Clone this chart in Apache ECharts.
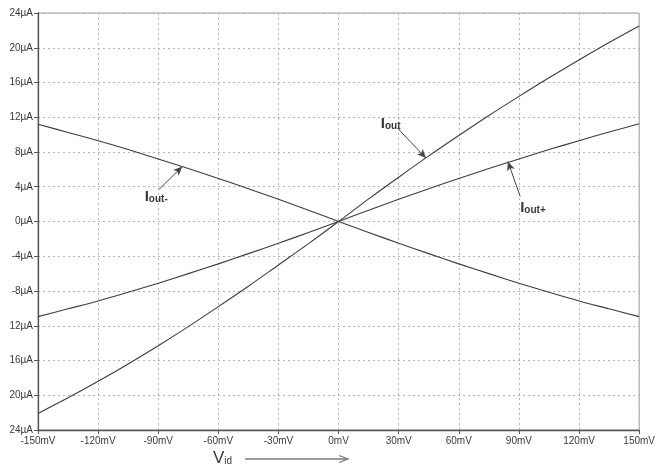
<!DOCTYPE html>
<html>
<head>
<meta charset="utf-8">
<script src="https://cdn.jsdelivr.net/npm/echarts@6/dist/echarts.min.js"></script>
<style>
  html, body { margin: 0; padding: 0; background: #fff; }
  #chart { width: 658px; height: 470px; }
</style>
</head>
<body>
<div id="chart"></div>
<script>
// Differential input voltage sweep (mV)
const vid = [-150, -135, -120, -105, -90, -75, -60, -45, -30, -15, 0,
             15, 30, 45, 60, 75, 90, 105, 120, 135, 150];
// Output currents (µA)
const iOut      = [-22.1, -20.3, -18.4, -16.4, -14.3, -12.1, -9.8, -7.45, -5.0, -2.55, 0,
                    2.6, 5.1, 7.55, 9.9, 12.2, 14.4, 16.55, 18.6, 20.6, 22.5];
const iOutPlus  = [-10.95, -10.05, -9.15, -8.15, -7.1, -6.0, -4.88, -3.7, -2.5, -1.26, 0,
                    1.3, 2.55, 3.78, 4.95, 6.1, 7.2, 8.28, 9.3, 10.3, 11.25];
const iOutMinus = [11.2, 10.25, 9.3, 8.28, 7.2, 6.1, 4.95, 3.78, 2.55, 1.3, 0,
                   -1.26, -2.5, -3.7, -4.88, -6.0, -7.1, -8.15, -9.15, -10.05, -10.95];

// Axis tick labels
const xTickLabels = ['-150mV', '-120mV', '-90mV', '-60mV', '-30mV', '0mV',
                     '30mV', '60mV', '90mV', '120mV', '150mV'];
const yTickLabels = ['24µA', '20µA', '16µA', '12µA', '-8µA', '-4µA', '0µA',
                     '4µA', '8µA', '12µA', '16µA', '20µA', '24µA'];

// Trace annotations: [label main, label sub, text anchor (mV, µA), arrow tail, arrow tip]
const traceNotes = [
  { main: 'I', sub: 'out',  text: [26, 11.2],   tail: [29.2, 10.8],  tip: [43.6, 7.3] },
  { main: 'I', sub: 'out-', text: [-91, 2.8],   tail: [-89.6, 3.7],  tip: [-78, 6.33] },
  { main: 'I', sub: 'out+', text: [97, 1.6],    tail: [90.6, 2.9],   tip: [84.5, 6.9] }
];

const pairs = (ys) => vid.map((v, i) => [v, ys[i]]);
const traceColor = '#3c3c3c';
const font = 'Liberation Sans, Arial, sans-serif';

const chart = echarts.init(document.getElementById('chart'), null, { renderer: 'canvas' });

function traceSeries(name, ys, note) {
  const s = {
    name: name,
    type: 'line',
    data: pairs(ys),
    smooth: 0.3,
    showSymbol: false,
    lineStyle: { color: traceColor, width: 1.1 },
    itemStyle: { color: traceColor },
    silent: true,
    animation: false
  };
  if (note) {
    s.markLine = {
      silent: true,
      symbol: ['none', 'arrow'],
      symbolSize: [6, 9],
      label: { show: false },
      lineStyle: { color: '#444', width: 1, type: 'solid' },
      animation: false,
      data: [[{ coord: note.tail }, { coord: note.tip }]]
    };
  }
  return s;
}

chart.setOption({
  backgroundColor: '#ffffff',
  animation: false,
  grid: {
    left: 38, right: 14, top: 13, bottom: 40,
    show: true, borderColor: '#9a9a9a', borderWidth: 1
  },
  xAxis: {
    type: 'value',
    min: -150, max: 150, interval: 30,
    axisLine: { show: true, onZero: false, lineStyle: { color: '#555', width: 1.3 } },
    axisTick: { show: true, length: 4, lineStyle: { color: '#555' } },
    axisLabel: {
      margin: 6, color: '#3a3a3a', fontSize: 10, fontFamily: font,
      formatter: (v) => xTickLabels[Math.round((v + 150) / 30)]
    },
    splitLine: { show: true, lineStyle: { color: '#b4b4b4', type: [2, 3], width: 1 } }
  },
  yAxis: {
    type: 'value',
    min: -24, max: 24, interval: 4,
    axisLine: { show: true, onZero: false, lineStyle: { color: '#555', width: 1.3 } },
    axisTick: { show: true, length: 4, lineStyle: { color: '#555' } },
    axisLabel: {
      margin: 5, color: '#3a3a3a', fontSize: 10, fontFamily: font,
      formatter: (v) => yTickLabels[Math.round((v + 24) / 4)]
    },
    splitLine: { show: true, lineStyle: { color: '#b4b4b4', type: [2, 3], width: 1 } }
  },
  series: [
    traceSeries('Iout', iOut, traceNotes[0]),
    traceSeries('Iout-', iOutMinus, traceNotes[1]),
    traceSeries('Iout+', iOutPlus, traceNotes[2])
  ]
});

// Trace name labels placed in data space
const noteGraphics = traceNotes.map((n) => {
  const p = chart.convertToPixel({ gridIndex: 0 }, n.text);
  return {
    type: 'text',
    x: p[0], y: p[1],
    style: {
      text: '{m|' + n.main + '}{s|' + n.sub + '}',
      align: 'center', verticalAlign: 'middle',
      rich: {
        m: { fontSize: 15, fontWeight: 'bold', fontFamily: font, fill: '#3a3a3a', color: '#3a3a3a' },
        s: { fontSize: 10, fontWeight: 'bold', fontFamily: font, fill: '#3a3a3a', color: '#3a3a3a',
             padding: [5, 0, 0, 0] }
      }
    },
    silent: true
  };
});

// Horizontal axis title with direction arrow
const axisTitle = [
  {
    type: 'text', x: 213, y: 458,
    style: {
      text: '{m|V}{s|id}',
      verticalAlign: 'middle',
      rich: {
        m: { fontSize: 17, fontFamily: font, fill: '#3a3a3a', color: '#3a3a3a' },
        s: { fontSize: 10, fontFamily: font, fill: '#3a3a3a', color: '#3a3a3a', padding: [6, 0, 0, 0] }
      }
    },
    silent: true
  },
  {
    type: 'line',
    shape: { x1: 245, y1: 459, x2: 348, y2: 459 },
    style: { stroke: '#7a7a7a', lineWidth: 1.4 },
    silent: true
  },
  {
    type: 'polyline',
    shape: { points: [[339, 455.5], [348, 459], [339, 462.5]] },
    style: { stroke: '#7a7a7a', lineWidth: 1.3, fill: null },
    silent: true
  }
];

chart.setOption({ graphic: noteGraphics.concat(axisTitle) });
</script>
</body>
</html>
